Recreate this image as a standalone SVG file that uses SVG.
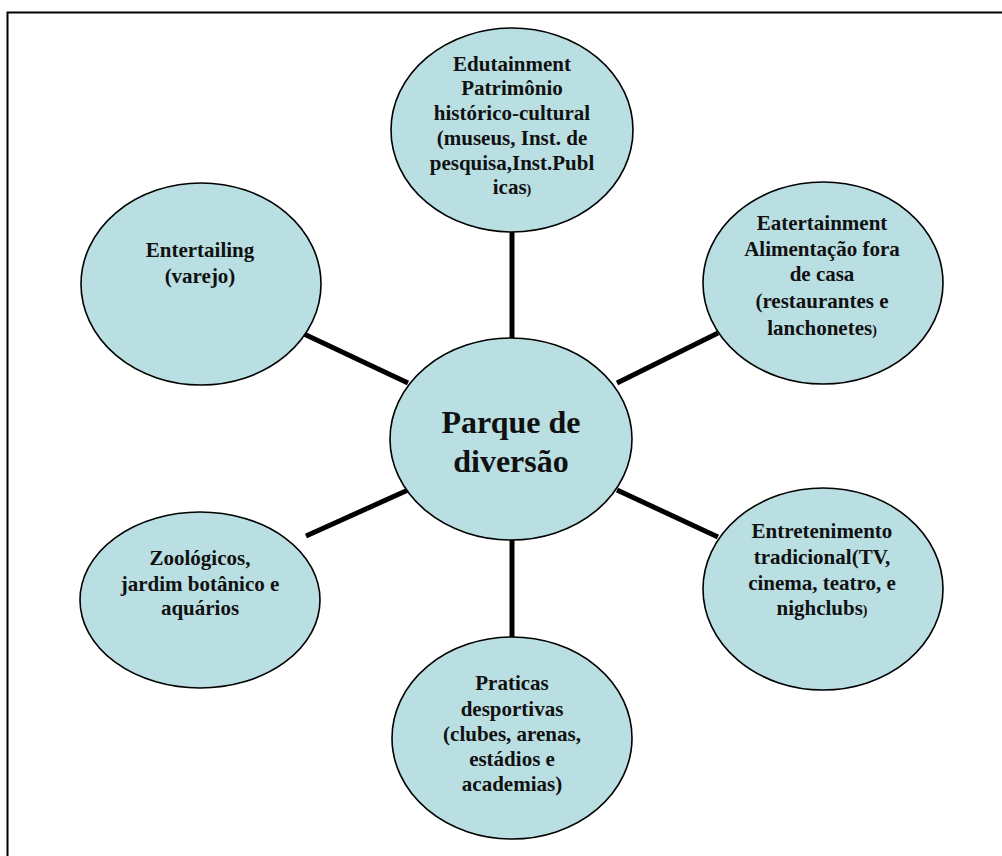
<svg xmlns="http://www.w3.org/2000/svg" width="1002" height="856" viewBox="0 0 1002 856">
  <style>
    .node { fill: #b9dfe3; stroke: #000; stroke-width: 1.6; }
    .label { font-family: "Liberation Serif", "Times New Roman", serif; font-weight: bold; font-size: 21px; fill: #111; text-anchor: middle; }
    .hub { font-size: 32px; }
    .small { font-size: 14px; }
    .link { stroke: #000; stroke-width: 5; fill: none; }
    .frame { stroke: #000; stroke-width: 2; fill: none; }
  </style>
  <rect width="1002" height="856" fill="#fff"/>
  <!-- page frame: top and left rules -->
  <path class="frame" d="M7.5 856 V12.5 H1002"/>

  <!-- spokes from the hub -->
  <g id="connectors">
    <line class="link" x1="512" y1="228" x2="512" y2="340"/>
    <line class="link" x1="512" y1="538" x2="512" y2="638"/>
    <line class="link" x1="304" y1="334" x2="408" y2="383"/>
    <line class="link" x1="617" y1="383" x2="718" y2="333"/>
    <line class="link" x1="617" y1="490" x2="718" y2="537"/>
    <line class="link" x1="306" y1="536" x2="408" y2="490"/>
  </g>

  <g id="hub">
    <ellipse class="node" cx="511" cy="439" rx="121" ry="101"/>
    <text class="label hub" x="511" y="433">Parque de</text>
    <text class="label hub" x="511" y="472">diversão</text>
  </g>

  <g id="edutainment">
    <ellipse class="node" cx="512" cy="130" rx="121" ry="102"/>
    <text class="label" x="512" y="71">Edutainment</text>
    <text class="label" x="512" y="95">Patrimônio</text>
    <text class="label" x="512" y="120">histórico-cultural</text>
    <text class="label" x="512" y="145">(museus, Inst. de</text>
    <text class="label" x="512" y="170">pesquisa,Inst.Publ</text>
    <text class="label" x="512" y="194">icas<tspan class="small">)</tspan></text>
  </g>

  <g id="eatertainment">
    <ellipse class="node" cx="823" cy="283" rx="120" ry="101"/>
    <text class="label" x="822" y="230">Eatertainment</text>
    <text class="label" x="822" y="256">Alimentação fora</text>
    <text class="label" x="822" y="281">de casa</text>
    <text class="label" x="822" y="308">(restaurantes e</text>
    <text class="label" x="822" y="335">lanchonetes<tspan class="small">)</tspan></text>
  </g>

  <g id="entretenimento">
    <ellipse class="node" cx="823" cy="589" rx="120" ry="101"/>
    <text class="label" x="822" y="538">Entretenimento</text>
    <text class="label" x="822" y="564">tradicional(TV,</text>
    <text class="label" x="822" y="590">cinema, teatro, e</text>
    <text class="label" x="822" y="615">nighclubs<tspan class="small">)</tspan></text>
  </g>

  <g id="praticas">
    <ellipse class="node" cx="512" cy="738" rx="120" ry="101"/>
    <text class="label" x="512" y="690">Praticas</text>
    <text class="label" x="512" y="716">desportivas</text>
    <text class="label" x="512" y="741">(clubes, arenas,</text>
    <text class="label" x="512" y="766">estádios e</text>
    <text class="label" x="512" y="791">academias)</text>
  </g>

  <g id="zoologicos">
    <ellipse class="node" cx="200" cy="600" rx="120" ry="88"/>
    <text class="label" x="200" y="565">Zoológicos,</text>
    <text class="label" x="200" y="591">jardim botânico e</text>
    <text class="label" x="200" y="615">aquários</text>
  </g>

  <g id="entertailing">
    <ellipse class="node" cx="201" cy="284" rx="120" ry="101"/>
    <text class="label" x="200" y="257">Entertailing</text>
    <text class="label" x="200" y="283">(varejo)</text>
  </g>
</svg>
